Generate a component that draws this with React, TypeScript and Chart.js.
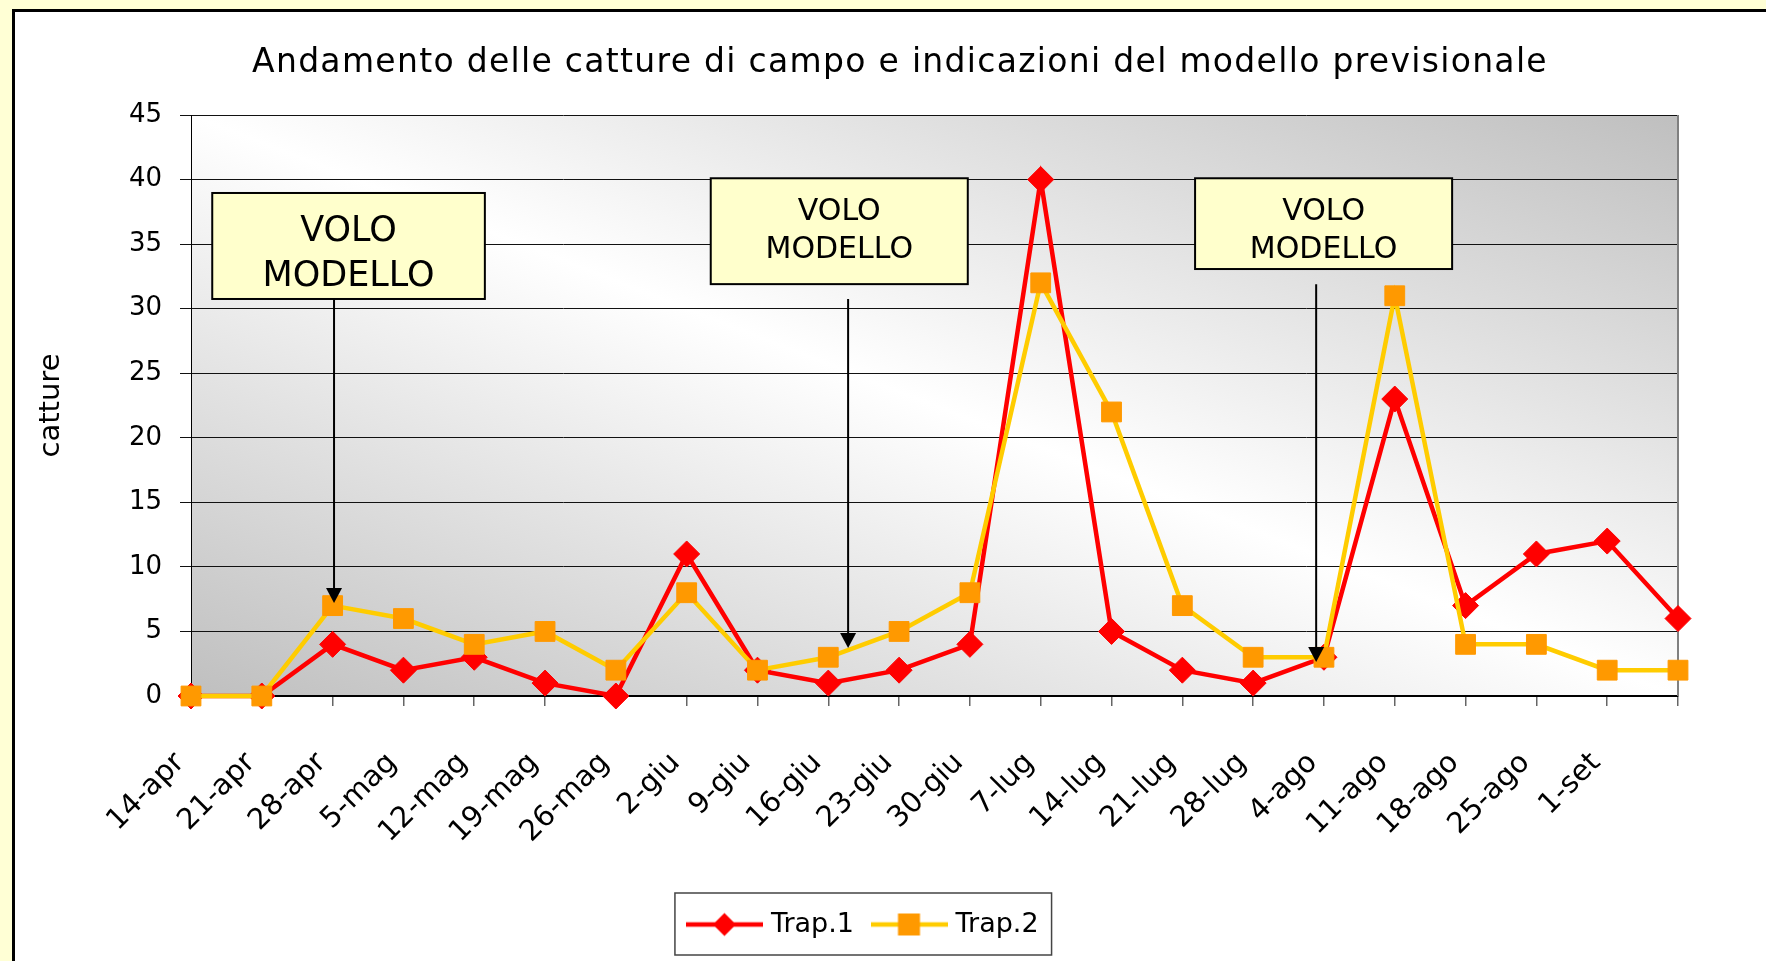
import React, { useEffect, useRef } from 'react';
import { Chart, registerables } from 'chart.js';

Chart.register(...registerables);

// ---------- data ----------
const categories = [
  '14-apr', '21-apr', '28-apr', '5-mag', '12-mag', '19-mag', '26-mag',
  '2-giu', '9-giu', '16-giu', '23-giu', '30-giu', '7-lug', '14-lug',
  '21-lug', '28-lug', '4-ago', '11-ago', '18-ago', '25-ago', '1-set', '',
];
const trap1Values = [0, 0, 4, 2, 3, 1, 0, 11, 2, 1, 2, 4, 40, 5, 2, 1, 3, 23, 7, 11, 12, 6];
const trap2Values = [0, 0, 7, 6, 4, 5, 2, 8, 2, 3, 5, 8, 32, 22, 7, 3, 3, 31, 4, 4, 2, 2];
const yTickValues = [0, 5, 10, 15, 20, 25, 30, 35, 40, 45];
const seriesNames = ['Trap.1', 'Trap.2'];
const chartTitle = 'Andamento delle catture di campo e indicazioni del modello previsionale';
const yAxisTitle = 'catture';
const noteLines = ['VOLO', 'MODELLO'];

// annotation callouts, in data coordinates (category index, value)
const noteBoxes = [
  { x0: 0.3, x1: 4.15, yTop: 38.96, yBottom: 30.75, fontSize: 35 },
  { x0: 7.34, x1: 10.97, yTop: 40.1, yBottom: 31.9, fontSize: 30 },
  { x0: 14.18, x1: 17.81, yTop: 40.1, yBottom: 33.07, fontSize: 30 },
];
const noteArrows = [
  { x: 2.02, yFrom: 30.75, yTo: 7.2 },
  { x: 9.28, yFrom: 30.75, yTo: 3.72 },
  { x: 15.89, yFrom: 31.9, yTo: 2.63 },
];

// ---------- styles ----------
const FONT = "'DejaVu Sans', sans-serif";
const PAGE_BG = '#FFFFD5';
const NOTE_BG = '#FFFFCC';
const RED = '#FF0000';
const YELLOW = '#FFCC00';
const ORANGE = '#FF9900';
const TITLE_POS = { x: 900, y: 72, size: 33, spacing: '1.3px' };

function makeLegendIcon(kind: 'diamond' | 'square'): HTMLCanvasElement {
  const c = document.createElement('canvas');
  c.width = 77;
  c.height = 30;
  const g = c.getContext('2d')!;
  g.lineWidth = 4.5;
  g.strokeStyle = kind === 'diamond' ? RED : YELLOW;
  g.beginPath();
  g.moveTo(0, 15);
  g.lineTo(77, 15);
  g.stroke();
  if (kind === 'diamond') {
    g.fillStyle = RED;
    g.beginPath();
    g.moveTo(38.5 - 11.5, 15);
    g.lineTo(38.5, 3.5);
    g.lineTo(38.5 + 11.5, 15);
    g.lineTo(38.5, 26.5);
    g.closePath();
    g.fill();
  } else {
    g.fillStyle = ORANGE;
    g.fillRect(38.5 - 11, 4, 22, 22);
  }
  return c;
}

const plotBackground = {
  id: 'plotBackground',
  beforeDraw(chart: any) {
    const { ctx, chartArea } = chart;
    const { left, top, right, bottom } = chartArea;
    const W = right - left;
    const H = bottom - top;
    const D = Math.hypot(W, H);
    const cx = (left + right) / 2;
    const cy = (top + bottom) / 2;
    const k = (W * H) / D;
    const nx = H / D;
    const ny = -W / D;
    const g = ctx.createLinearGradient(cx - k * nx, cy - k * ny, cx + k * nx, cy + k * ny);
    g.addColorStop(0, '#BFBFBF');
    g.addColorStop(0.5, '#FFFFFF');
    g.addColorStop(1, '#BFBFBF');
    ctx.save();
    ctx.fillStyle = g;
    ctx.fillRect(left, top, W, H);
    ctx.restore();
  },
  beforeDatasetsDraw(chart: any) {
    const { ctx, chartArea } = chart;
    ctx.save();
    ctx.strokeStyle = '#808080';
    ctx.lineWidth = 2;
    ctx.beginPath();
    ctx.moveTo(chartArea.right, chartArea.top);
    ctx.lineTo(chartArea.right, chartArea.bottom);
    ctx.stroke();
    ctx.restore();
  },
};

const notesPlugin = {
  id: 'notes',
  afterDatasetsDraw(chart: any) {
    const { ctx } = chart;
    const xs = chart.scales.x;
    const ys = chart.scales.y;
    ctx.save();
    for (const a of noteArrows) {
      const x = xs.getPixelForValue(a.x);
      const y0 = ys.getPixelForValue(a.yFrom);
      const y1 = ys.getPixelForValue(a.yTo);
      ctx.strokeStyle = '#000';
      ctx.lineWidth = 2;
      ctx.beginPath();
      ctx.moveTo(x, y0);
      ctx.lineTo(x, y1 - 12);
      ctx.stroke();
      ctx.fillStyle = '#000';
      ctx.beginPath();
      ctx.moveTo(x - 8, y1 - 15);
      ctx.lineTo(x + 8, y1 - 15);
      ctx.lineTo(x, y1);
      ctx.closePath();
      ctx.fill();
    }
    for (const b of noteBoxes) {
      const l = xs.getPixelForValue(b.x0);
      const r = xs.getPixelForValue(b.x1);
      const t = ys.getPixelForValue(b.yTop);
      const bt = ys.getPixelForValue(b.yBottom);
      ctx.fillStyle = NOTE_BG;
      ctx.fillRect(l, t, r - l, bt - t);
      ctx.strokeStyle = '#000';
      ctx.lineWidth = 2;
      ctx.strokeRect(l, t, r - l, bt - t);
      ctx.fillStyle = '#000';
      ctx.font = `${b.fontSize}px ${FONT}`;
      ctx.textAlign = 'center';
      ctx.textBaseline = 'alphabetic';
      noteLines.forEach((line, i) => {
        ctx.fillText(line, (l + r) / 2, t + 1.38 * b.fontSize + i * 1.28 * b.fontSize);
      });
    }
    ctx.restore();
  },
};

const titleAndLegendFrame = {
  id: 'titleAndLegendFrame',
  afterDraw(chart: any) {
    const { ctx } = chart;
    ctx.save();
    ctx.fillStyle = '#000';
    ctx.font = `${TITLE_POS.size}px ${FONT}`;
    try {
      (ctx as any).letterSpacing = TITLE_POS.spacing;
    } catch (e) {
      /* ignore */
    }
    ctx.textAlign = 'center';
    ctx.textBaseline = 'alphabetic';
    ctx.fillText(chartTitle, TITLE_POS.x, TITLE_POS.y);
    try {
      (ctx as any).letterSpacing = '0px';
    } catch (e) {
      /* ignore */
    }
    const hb = chart.legend && chart.legend.legendHitBoxes;
    if (hb && hb.length) {
      const first = hb[0];
      const last = hb[hb.length - 1];
      const l = first.left - 16.5;
      const r = last.left + last.width + 13;
      const t = first.top - 18;
      const b = first.top + first.height + 17;
      ctx.strokeStyle = '#444';
      ctx.lineWidth = 1.5;
      ctx.strokeRect(l, t, r - l, b - t);
    }
    ctx.restore();
  },
};

export default function App() {
  const ref = useRef<HTMLCanvasElement>(null);

  useEffect(() => {
    const canvas = ref.current;
    if (!canvas) return;
    const icons = [makeLegendIcon('diamond'), makeLegendIcon('square')];
    const chart = new Chart(canvas, {
      type: 'line',
      data: {
        labels: categories,
        datasets: [
          {
            label: seriesNames[0],
            data: trap1Values,
            borderColor: RED,
            backgroundColor: RED,
            borderWidth: 4.5,
            pointStyle: 'rectRot',
            pointRadius: 13,
            pointBorderWidth: 1,
            pointBackgroundColor: RED,
            pointBorderColor: RED,
            tension: 0,
            clip: false,
            order: 1,
          } as any,
          {
            label: seriesNames[1],
            data: trap2Values,
            borderColor: YELLOW,
            backgroundColor: ORANGE,
            borderWidth: 4.5,
            pointStyle: 'rect',
            pointRadius: 14,
            pointBorderWidth: 1,
            pointBackgroundColor: ORANGE,
            pointBorderColor: ORANGE,
            tension: 0,
            clip: false,
            order: 0,
          } as any,
        ],
      },
      options: {
        responsive: false,
        animation: false,
        devicePixelRatio: 1,
        events: [],
        layout: { padding: { left: 0, right: 36, top: 115, bottom: 13 } },
        scales: {
          x: {
            type: 'category',
            offset: false,
            grid: {
              drawOnChartArea: false,
              drawTicks: true,
              tickLength: 10,
              color: '#666',
              lineWidth: 1.5,
            },
            border: { display: true, color: '#000', width: 2 },
            ticks: {
              autoSkip: false,
              minRotation: 45,
              maxRotation: 45,
              padding: 40,
              labelOffset: -11,
              color: '#000',
              font: { family: FONT, size: 29 },
            },
            afterFit: (s: any) => {
              s.height = 193;
            },
          },
          y: {
            type: 'linear',
            position: 'left',
            min: yTickValues[0],
            max: yTickValues[yTickValues.length - 1],
            grid: {
              color: '#111',
              lineWidth: 1,
              drawTicks: true,
              tickLength: 11,
            },
            border: { display: true, color: '#000', width: 1 },
            ticks: {
              stepSize: yTickValues[1] - yTickValues[0],
              padding: 18,
              color: '#000',
              font: { family: FONT, size: 26 },
            },
            title: {
              display: true,
              text: yAxisTitle,
              color: '#000',
              font: { family: FONT, size: 29 },
              padding: { top: 34, bottom: 0 },
            },
            afterFit: (s: any) => {
              s.width = 191;
            },
          },
          yRight: {
            type: 'linear',
            position: 'right',
            display: true,
            grid: { display: false },
            border: { display: false },
            ticks: { display: false },
            afterFit: (s: any) => {
              s.width = 52;
            },
          },
        },
        plugins: {
          title: { display: false },
          tooltip: { enabled: false },
          legend: {
            display: true,
            position: 'bottom',
            labels: {
              usePointStyle: true,
              pointStyleWidth: 66,
              padding: 22,
              color: '#000',
              font: { family: FONT, size: 27 },
              sort: (a: any, b: any) => a.datasetIndex - b.datasetIndex,
              generateLabels: (ch: any) => {
                const items = (Chart as any).defaults.plugins.legend.labels.generateLabels(ch);
                return items.map((it: any) => ({ ...it, pointStyle: icons[it.datasetIndex] }));
              },
            },
          },
        },
      } as any,
      plugins: [plotBackground, notesPlugin, titleAndLegendFrame],
    });
    return () => chart.destroy();
  }, []);

  return (
    <div
      style={{
        position: 'fixed',
        left: 0,
        top: 0,
        width: 1766,
        height: 961,
        background: PAGE_BG,
        overflow: 'hidden',
      }}
    >
      <div
        style={{
          position: 'absolute',
          left: 12,
          top: 9,
          width: 1800,
          height: 1000,
          border: '3px solid #000',
          background: '#fff',
          boxSizing: 'border-box',
        }}
      />
      <canvas
        ref={ref}
        width={1766}
        height={961}
        style={{ position: 'absolute', left: 0, top: 0, width: 1766, height: 961 }}
      />
    </div>
  );
}
